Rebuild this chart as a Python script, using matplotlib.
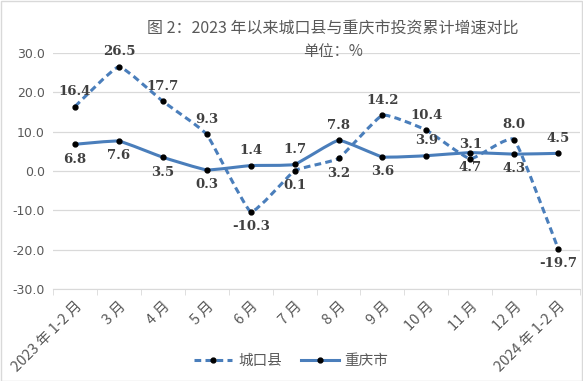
import numpy as np
import matplotlib
matplotlib.use("Agg")
import matplotlib.pyplot as plt
from matplotlib.path import Path
from matplotlib.patches import PathPatch
from matplotlib.lines import Line2D

plt.rcParams['font.family'] = ['Noto Sans CJK SC', 'DejaVu Sans']

# data
months = ["2023 年 1-2 月", "3 月", "4 月", "5 月", "6 月", "7 月", "8 月",
          "9 月", "10 月", "11 月", "12 月", "2024 年 1-2 月"]
chengkou = [16.4, 26.5, 17.7, 9.3, -10.3, 0.1, 3.2, 14.2, 10.4, 3.1, 8.0, -19.7]
chongqing = [6.8, 7.6, 3.5, 0.3, 1.4, 1.7, 7.8, 3.6, 3.9, 4.7, 4.3, 4.5]
series_names = ["城口县", "重庆市"]

# label placement (1 = above, -1 = below)
ck_pos = [1, 1, 1, 1, -1, -1, -1, 1, 1, 1, 1, -1]
cq_pos = [-1, -1, -1, -1, 1, 1, 1, -1, 1, -1, -1, 1]

blue = "#4A7EBB"
gray = "#595959"


def smooth_path(x, y, t=0.06):
    # lightly smoothed line through the points (cubic bezier)
    x = np.asarray(x, float)
    y = np.asarray(y, float)
    n = len(x)
    verts = [(x[0], y[0])]
    codes = [Path.MOVETO]
    for i in range(n - 1):
        p0 = np.array([x[max(i - 1, 0)], y[max(i - 1, 0)]])
        p1 = np.array([x[i], y[i]])
        p2 = np.array([x[i + 1], y[i + 1]])
        p3 = np.array([x[min(i + 2, n - 1)], y[min(i + 2, n - 1)]])
        c1 = p1 + (p2 - p0) * t
        c2 = p2 - (p3 - p1) * t
        verts += [tuple(c1), tuple(c2), tuple(p2)]
        codes += [Path.CURVE4] * 3
    return Path(verts, codes)


fig = plt.figure(figsize=(5.83, 3.81), dpi=100)
ax = fig.add_axes([0.091, 0.241, 0.904, 0.62])

x = np.arange(len(months))
dash = (0, (2.2, 1.4))

ax.add_patch(PathPatch(smooth_path(x, chengkou), fill=False, edgecolor=blue,
                       lw=2.2, linestyle=dash, zorder=3))
ax.add_patch(PathPatch(smooth_path(x, chongqing), fill=False, edgecolor=blue,
                       lw=2.2, zorder=3))
ax.plot(x, chengkou, ls='none', marker='o', ms=3.5, color='black', zorder=4)
ax.plot(x, chongqing, ls='none', marker='o', ms=3.5, color='black', zorder=4)

lab_font = dict(family='DejaVu Serif', weight='bold', size=9.5, color='#404040')
for xi, v, p in zip(x, chengkou, ck_pos):
    ax.annotate(f"{v:.1f}", (xi, v), xytext=(0, 6 * p), textcoords='offset points',
                ha='center', va='bottom' if p > 0 else 'top', **lab_font)
for xi, v, p in zip(x, chongqing, cq_pos):
    ax.annotate(f"{v:.1f}", (xi, v), xytext=(0, 6 * p), textcoords='offset points',
                ha='center', va='bottom' if p > 0 else 'top', **lab_font)

ax.set_xlim(-0.5, len(months) - 0.5)
ax.set_ylim(-30, 30)
ax.set_yticks(np.arange(-30, 31, 10))
ax.set_yticklabels([f"{v:.1f}" for v in np.arange(-30, 31, 10)], fontsize=9, color=gray,
                   family='DejaVu Sans')
ax.set_xticks(x)
ax.set_xticklabels(months, rotation=45, ha='right', rotation_mode='anchor',
                   fontsize=10.5, color=gray)
ax.set_xticks(np.arange(-0.5, len(months)), minor=True)
ax.tick_params(axis='x', which='major', length=0, pad=7)
ax.tick_params(axis='x', which='minor', length=4, color='#D9D9D9')
ax.tick_params(axis='y', length=0, pad=6)
ax.grid(axis='y', color='#D9D9D9', lw=0.9)
ax.set_axisbelow(True)
for s in ['top', 'right', 'left']:
    ax.spines[s].set_visible(False)
ax.spines['bottom'].set_color('#D9D9D9')

fig.text(0.57, 0.925, "图 2：2023 年以来城口县与重庆市投资累计增速对比", ha='center', va='center',
         fontsize=11.5, color=gray)
fig.text(0.572, 0.866, "单位：%", ha='center', va='center', fontsize=11, color=gray)

handles = [Line2D([], [], color=blue, lw=2.2, ls=dash, marker='o', ms=3.5,
                  mfc='black', mec='black'),
           Line2D([], [], color=blue, lw=2.2, marker='o', ms=3.5, mfc='black', mec='black')]
fig.legend(handles, series_names, loc='center', bbox_to_anchor=(0.5, 0.052), ncol=2,
           frameon=False, fontsize=10.5, handlelength=2.6, handletextpad=0.4,
           columnspacing=1.3, labelcolor=gray)

fig.patches.append(plt.Rectangle((0.001, 0.001), 0.997, 0.997, transform=fig.transFigure,
                                 fill=False, edgecolor='#D9D9D9', lw=1))

fig.savefig("out.png", dpi=100)
